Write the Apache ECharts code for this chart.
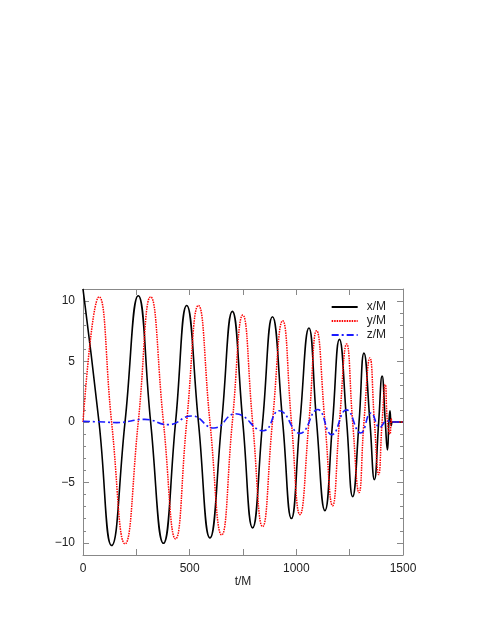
<!DOCTYPE html>
<html><head><meta charset="utf-8">
<script src="https://cdn.jsdelivr.net/npm/echarts@6/dist/echarts.min.js"></script>
<style>html,body{margin:0;padding:0;background:#fff}#c{width:485px;height:627px}</style>
</head><body><div id="c"></div>
<script>
// x/M (black)
const xT = [0,75,134,197,259,317,377,434,486,541,595,650,700,749,795,842,888,936,977,1017,1059,1095,1134,1170,1202,1236,1264,1294,1317,1345,1366,1386,1402,1417,1427,1434,1439,1445,1450,1500];
const xV = [11.0,0,-10.22,0,10.44,0,-10.03,0,9.64,0,-9.59,0,9.15,0,-8.76,0,8.7,0,-7.98,0,7.77,0,-7.33,0,6.83,0,-6.17,0,5.7,0,-4.77,0,3.8,0,-2.31,0,0.93,-0.3,0,0];
// y/M (red)
const yT = [0,75,134,197,259,317,377,434,486,541,595,650,700,749,795,842,888,936,977,1017,1059,1095,1134,1170,1202,1236,1264,1294,1317,1345,1366,1386,1402,1417,1427,1439,1445,1450,1500];
const yV = [0,10.35,0,-10.08,0,10.35,0,-9.67,0,9.64,0,-9.34,0,8.84,0,-8.65,0,8.37,0,-7.66,0,7.55,0,-6.92,0,6.45,0,-5.84,0,5.3,0,-4.35,0,3.1,0,-1.0,0.3,0,0];
// z/M (blue)
const zT = [0,100,158,290,400,509,614,715,845,920,1017,1100,1166,1235,1302,1350,1392,1425,1450,1500];
const zV = [0.05,0.0,-0.05,0.22,-0.22,0.5,-0.5,0.68,-0.72,0.93,-0.94,1.03,-1.05,1.0,-0.91,0.75,-0.44,0.1,0,0];
const names = ['x/M','y/M','z/M'];
const xTicks = [0,500,1000,1500];

const zip = (t,v) => t.map((a,i)=>[a,v[i]]);
const chart = echarts.init(document.getElementById('c'), null, {renderer:'canvas'});
const F = 'Liberation Sans, Arial, sans-serif';
const axCol = '#888';
const grid = {left:83, right:82, top:289, bottom:72};
function xa(pos, labels, len, interval){
  return {type:'value', position:pos, min:0, max:1500, interval:interval,
    name: labels ? 't/M' : '', nameLocation:'middle', nameGap:20,
    nameTextStyle:{fontFamily:F,fontSize:12,color:'#222'},
    axisLine:{show:true, onZero:false, lineStyle:{color:axCol,width:1}},
    axisTick:{show:true, inside:true, length:len, lineStyle:{color:axCol}},
    minorTick:{show:false},
    axisLabel:{show:labels, fontFamily:F, fontSize:12, color:'#222', margin:8,
      formatter:v=> xTicks.indexOf(v)>=0 ? String(v) : ''},
    splitLine:{show:false}};
}
function ya(pos, labels, len, minor){
  const a = {type:'value', position:pos, min:-11, max:11,
    axisLine:{show:!minor, onZero:false, lineStyle:{color:axCol,width:1}},
    axisTick:{show:true, inside:true, length:len, lineStyle:{color:axCol}},
    axisLabel:{show:labels, fontFamily:F, fontSize:12, color:'#222', margin:8, showMinLabel:false, showMaxLabel:false,
      formatter:v=> v<0 ? '\u2212'+Math.abs(v) : String(v)},
    splitLine:{show:false}};
  if (minor) a.interval = 1; else a.splitNumber = 4;
  return a;
}
chart.setOption({
  animation:false,
  backgroundColor:'#fff',
  grid: grid,
  legend:{orient:'vertical', right:94, top:296, itemWidth:26, itemHeight:10, itemGap:2, align:'left',
    itemStyle:{opacity:0, borderWidth:0},
    textStyle:{fontFamily:F, fontSize:12, color:'#222', padding:[0,0,0,4]},
    data:names},
  xAxis:[xa('bottom',true,6,250), xa('top',false,6,250)],
  yAxis:[ya('left',true,6,false), ya('left',false,3,true), ya('right',false,6,false), ya('right',false,3,true)],
  series:[
    {name:'x/M', type:'line', data:zip(xT,xV), smooth:0.5, symbol:'none', xAxisIndex:0, yAxisIndex:0,
      lineStyle:{color:'#000', width:1.6, type:'solid'}, itemStyle:{color:'#000'}, z:3},
    {name:'y/M', type:'line', data:zip(yT,yV), smooth:0.5, symbol:'none', xAxisIndex:0, yAxisIndex:0,
      lineStyle:{color:'#f00', width:1.5, type:[1.5,1]}, itemStyle:{color:'#f00'}, z:4},
    {name:'z/M', type:'line', data:zip(zT,zV), smooth:0.5, symbol:'none', xAxisIndex:0, yAxisIndex:0,
      lineStyle:{color:'#1a1aff', width:1.6, type:[7,3,2,3]}, itemStyle:{color:'#1a1aff'}, z:5}
  ]
});
</script></body></html>
